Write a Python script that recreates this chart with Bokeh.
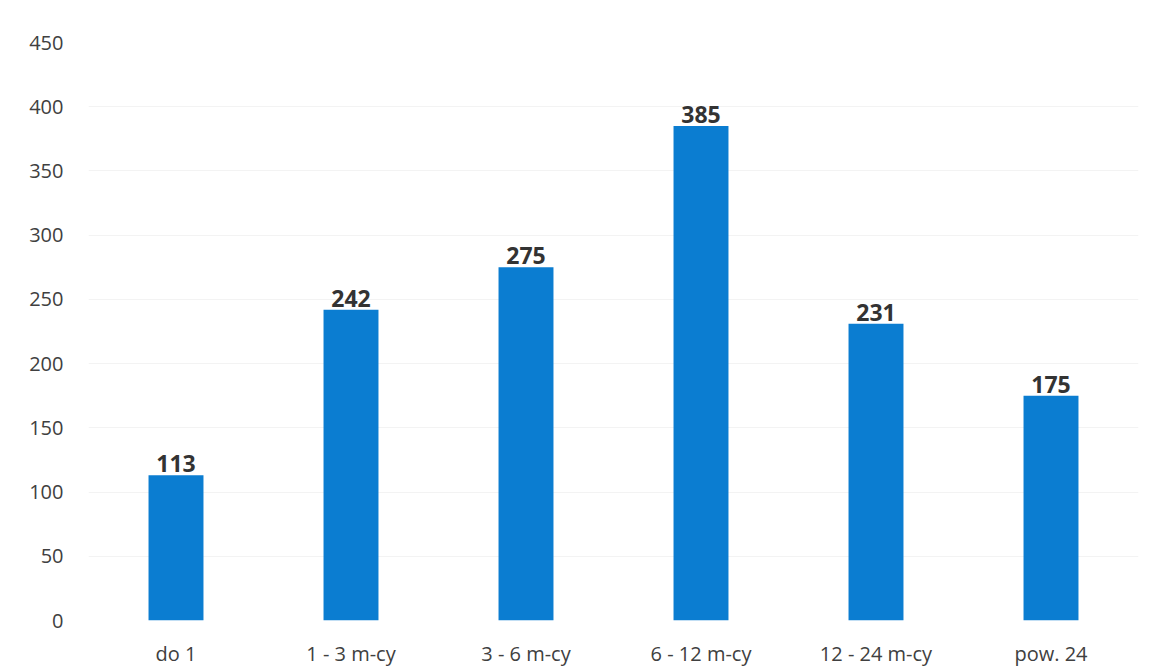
from bokeh.plotting import figure
from bokeh.models import ColumnDataSource, LabelSet, Range1d, FixedTicker
from bokeh.core.properties import value
from bokeh.embed import file_html
from bokeh.resources import INLINE

categories = ["do 1", "1 - 3 m-cy", "3 - 6 m-cy", "6 - 12 m-cy", "12 - 24 m-cy", "pow. 24"]
values = [113, 242, 275, 385, 231, 175]
y_ticks = [0, 50, 100, 150, 200, 250, 300, 350, 400, 450]

src = ColumnDataSource(data=dict(cat=categories, val=values, lbl=[str(v) for v in values]))

p = figure(x_range=categories, y_range=Range1d(0, 450), width=1150, height=669,
           output_backend="svg", toolbar_location=None,
           min_border_left=88, min_border_right=12, min_border_top=42, min_border_bottom=40)

p.vbar(x="cat", top="val", width=0.314, source=src, color="#0b7dd1", line_color=None)

labels = LabelSet(x="cat", y="val", text="lbl", source=src, text_align="center",
                  text_baseline="alphabetic", y_offset=3,
                  text_font=value("Open Sans"), text_font_style="bold", text_font_size="23px",
                  text_color="#333333")
p.add_layout(labels)

p.outline_line_color = None
p.xgrid.grid_line_color = None
p.ygrid.grid_line_color = "#f3f3f3"
p.yaxis.ticker = FixedTicker(ticks=y_ticks)

for ax in (p.xaxis[0], p.yaxis[0]):
    ax.axis_line_color = None
    ax.major_tick_line_color = None
    ax.minor_tick_line_color = None
    ax.major_label_text_font = "Open Sans"
    ax.major_label_text_font_size = "20px"
    ax.major_label_text_color = "#404040"

p.yaxis.major_label_standoff = 19
p.xaxis.major_label_standoff = 13
p.x_range.range_padding = 0.0

open("out.html", "w").write(file_html(p, INLINE))
